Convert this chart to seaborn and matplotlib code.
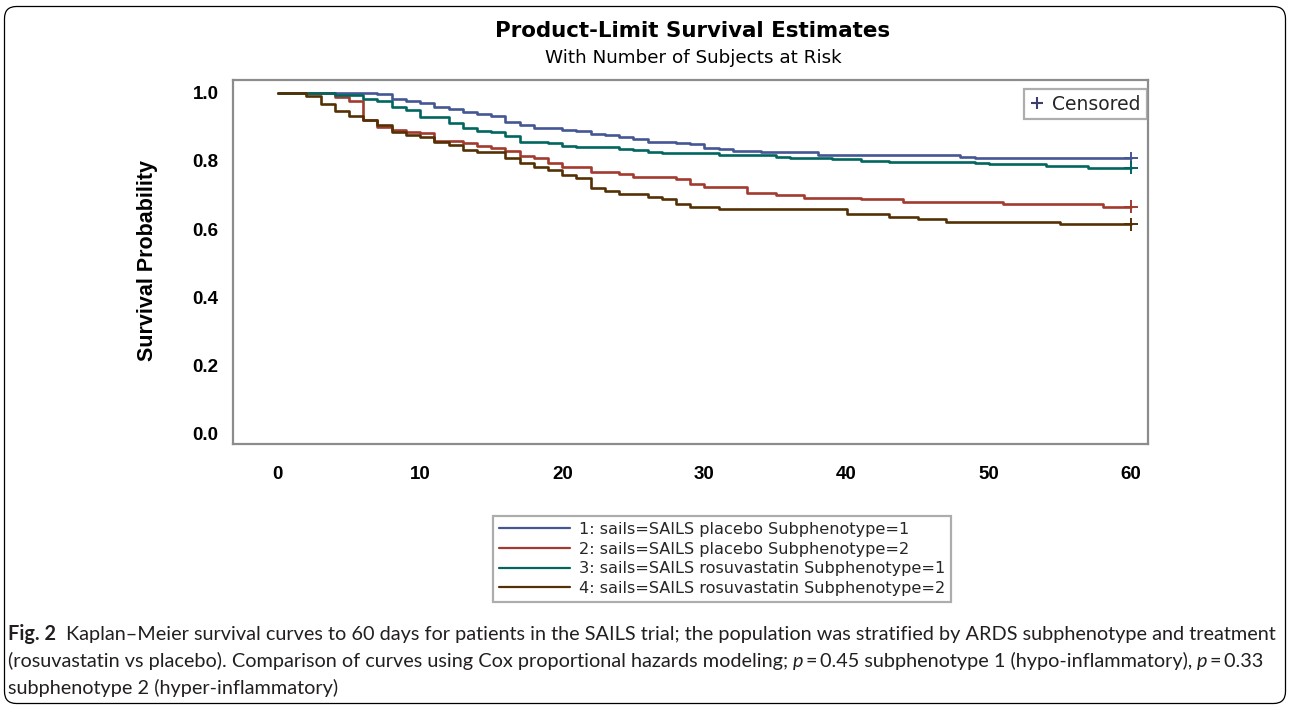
import numpy as np
import pandas as pd
import seaborn as sns
import matplotlib
matplotlib.use("Agg")
import matplotlib.pyplot as plt
from matplotlib.lines import Line2D
from matplotlib.patches import FancyBboxPatch
from matplotlib.transforms import IdentityTransform

# group labels and colours (SAS HTMLBlue style)
groups = [
    "1: sails=SAILS placebo Subphenotype=1",
    "2: sails=SAILS placebo Subphenotype=2",
    "3: sails=SAILS rosuvastatin Subphenotype=1",
    "4: sails=SAILS rosuvastatin Subphenotype=2",
]
colors = ["#445694", "#A23A2E", "#01665E", "#543005"]

# step times (days) and survival after each step
days_1 = [0, 7, 8, 9, 10, 11, 12, 13, 14, 15, 16, 17, 18, 20, 21, 22, 23, 24, 25, 26,
          28, 29, 30, 31, 32, 34, 38, 48, 49]
surv_1 = [1.0, 0.996, 0.981, 0.977, 0.971, 0.958, 0.953, 0.945, 0.939, 0.933, 0.914, 0.907,
          0.896, 0.891, 0.887, 0.880, 0.875, 0.871, 0.865, 0.857, 0.852, 0.849, 0.839, 0.835,
          0.830, 0.827, 0.817, 0.813, 0.808]

days_2 = [0, 4, 5, 6, 7, 8, 9, 10, 11, 13, 14, 15, 16, 17, 18, 19, 20, 22, 24, 25,
          28, 29, 30, 33, 35, 37, 41, 44, 51, 58]
surv_2 = [1.0, 0.987, 0.975, 0.920, 0.901, 0.891, 0.886, 0.881, 0.860, 0.854, 0.844, 0.837,
          0.828, 0.815, 0.809, 0.795, 0.781, 0.769, 0.762, 0.754, 0.746, 0.733, 0.722, 0.707,
          0.699, 0.691, 0.687, 0.680, 0.674, 0.666]

days_3 = [0, 4, 6, 7, 8, 9, 10, 12, 13, 14, 15, 16, 17, 19, 20, 21, 24, 25, 26, 27,
          31, 35, 36, 39, 41, 43, 49, 50, 54, 57]
surv_3 = [1.0, 0.993, 0.981, 0.977, 0.960, 0.950, 0.930, 0.913, 0.896, 0.889, 0.885, 0.873,
          0.857, 0.852, 0.845, 0.840, 0.835, 0.831, 0.827, 0.824, 0.818, 0.813, 0.808, 0.805,
          0.801, 0.797, 0.793, 0.790, 0.786, 0.780]

days_4 = [0, 2, 3, 4, 5, 6, 7, 8, 9, 10, 11, 12, 13, 14, 16, 17, 18, 19, 20, 21,
          22, 23, 24, 26, 27, 28, 29, 31, 40, 43, 45, 47, 55]
surv_4 = [1.0, 0.992, 0.968, 0.946, 0.931, 0.921, 0.905, 0.884, 0.877, 0.869, 0.855, 0.847,
          0.833, 0.825, 0.810, 0.795, 0.781, 0.774, 0.760, 0.751, 0.720, 0.712, 0.703, 0.695,
          0.687, 0.673, 0.665, 0.658, 0.643, 0.636, 0.628, 0.621, 0.614]

censor_day = [60, 60, 60, 60]  # everyone left is censored at end of follow-up

x_ticks = [0, 10, 20, 30, 40, 50, 60]
y_ticks = [0.0, 0.2, 0.4, 0.6, 0.8, 1.0]

title = "Product-Limit Survival Estimates"
subtitle = "With Number of Subjects at Risk"

# long-form table for seaborn
all_days = [days_1, days_2, days_3, days_4]
all_surv = [surv_1, surv_2, surv_3, surv_4]
rows = []
cens = []
for g, d, s, c in zip(groups, all_days, all_surv, censor_day):
    for t, v in zip(d, s):
        rows.append((g, t, v))
    rows.append((g, c, s[-1]))
    cens.append((g, c, s[-1]))
df = pd.DataFrame(rows, columns=["group", "day", "surv"])
df_cens = pd.DataFrame(cens, columns=["group", "day", "surv"])

sns.set_theme(style="white")
plt.rcParams["font.family"] = ["DejaVu Sans"]

W, H = 1290, 710
fig = plt.figure(figsize=(W / 100, H / 100), dpi=100)
ax = fig.add_axes([233 / W, 1 - 444 / H, (1148 - 233) / W, (444 - 80) / H])

pal = dict(zip(groups, colors))
sns.lineplot(data=df, x="day", y="surv", hue="group", palette=pal, hue_order=groups,
             estimator=None, drawstyle="steps-post", linewidth=1.9, legend=False, ax=ax)
sns.scatterplot(data=df_cens, x="day", y="surv", hue="group", palette=pal, hue_order=groups,
                marker="+", s=90, linewidth=1.4, legend=False, ax=ax, zorder=5)

ax.set_xlim(-3.16, 61.2)
ax.set_ylim(-0.032, 1.038)
ax.set_xticks(x_ticks)
ax.set_yticks(y_ticks)
ax.set_yticklabels([f"{v:.1f}" for v in y_ticks])
ax.set_xlabel("")
ax.set_ylabel("")

axis_grey = "#8c8c8c"
for sp in ax.spines.values():
    sp.set_color(axis_grey)
    sp.set_linewidth(1.6)
ax.tick_params(axis="both", which="major", direction="out", length=7.5, width=1.6,
               color=axis_grey, labelcolor="black")
ax.tick_params(axis="x", pad=8.5)
ax.tick_params(axis="y", pad=3)
for lab in ax.get_xticklabels() + ax.get_yticklabels():
    lab.set_fontfamily("Liberation Sans")
    lab.set_fontweight("bold")
    lab.set_fontsize(13.5)

fig.text(148 / W, 1 - 261 / H, "Survival Probability", rotation=90, ha="center", va="center",
         fontsize=15.5, fontweight="bold", family="Liberation Sans", color="black")

fig.text(693 / W, 1 - 31 / H, title, ha="center", va="center", fontsize=15.4,
         fontweight="bold", color="black")
fig.text(693 / W, 1 - 58 / H, subtitle, ha="center", va="center", fontsize=13.2, color="black")

# censored key inside the axes
cens_handle = Line2D([], [], ls="none", marker="+", color="#3b3f6a", markersize=8,
                     markeredgewidth=1.5)
leg1 = ax.legend([cens_handle], ["Censored"], loc="upper right",
                 bbox_to_anchor=(1 - 1.5 / 915, 1 - 9 / 364), fontsize=13.5,
                 frameon=True, fancybox=False, handlelength=0.8, handletextpad=0.4,
                 borderpad=0.3, borderaxespad=0)
leg1.get_frame().set_edgecolor("#999999")
leg1.get_frame().set_linewidth(1.6)

# group key below the plot
handles = [Line2D([], [], color=c, lw=1.6) for c in colors]
leg2 = fig.legend(handles, groups, loc="upper center",
                  bbox_to_anchor=(722 / W, 1 - 516 / H), fontsize=11.6, frameon=True,
                  fancybox=False, handlelength=4.4, handletextpad=0.55, labelspacing=0.28,
                  borderpad=0.38, borderaxespad=0)
leg2.get_frame().set_edgecolor("#999999")
leg2.get_frame().set_linewidth(1.6)

# outer rounded panel
panel = FancyBboxPatch((4.5, 6.5), 1281, 697, boxstyle="round,pad=0,rounding_size=12",
                       transform=IdentityTransform(), fill=False, edgecolor="black",
                       linewidth=0.9)
fig.add_artist(panel)

# caption with bold / italic runs
cap_family = ["Lato", "DejaVu Sans"]
cap_color = "#231f20"
renderer = fig.canvas.get_renderer()


def advance(s, size, **kw):
    a = fig.text(0, 0, "|" + s + "|", transform=IdentityTransform(), fontsize=size,
                 family=cap_family, **kw)
    b = fig.text(0, 0, "||", transform=IdentityTransform(), fontsize=size,
                 family=cap_family, **kw)
    w = a.get_window_extent(renderer).width - b.get_window_extent(renderer).width
    a.remove()
    b.remove()
    return w


def draw_runs(x, y, runs, size):
    for s, kw in runs:
        fig.text(x, y, s, transform=IdentityTransform(), fontsize=size, family=cap_family,
                 color=cap_color, va="baseline", ha="left", **kw)
        x += advance(s, size, **kw)


bold = {"fontweight": "bold"}
reg = {}
ital = {"fontstyle": "italic"}
line1 = [("Fig. 2  ", bold),
         ("Kaplan\u2013Meier survival curves to 60 days for patients in the SAILS trial; "
          "the population was stratified by ARDS subphenotype and treatment", reg)]
line2 = [("(rosuvastatin vs placebo). Comparison of curves using Cox proportional hazards "
          "modeling; ", reg), ("p\u2009", ital),
         ("=\u20090.45 subphenotype 1 (hypo-inflammatory), ", reg), ("p\u2009", ital),
         ("=\u20090.33", reg)]
line3 = [("subphenotype 2 (hyper-inflammatory)", reg)]

base = 12.0
w1 = sum(advance(s, base, **kw) for s, kw in line1)
cap_size = base * (1270 - 8) / w1
draw_runs(8, H - 640, line1, cap_size)
draw_runs(8, H - 667, line2, cap_size)
draw_runs(8, H - 694, line3, cap_size)

fig.savefig("out.png", dpi=100, facecolor="white")
